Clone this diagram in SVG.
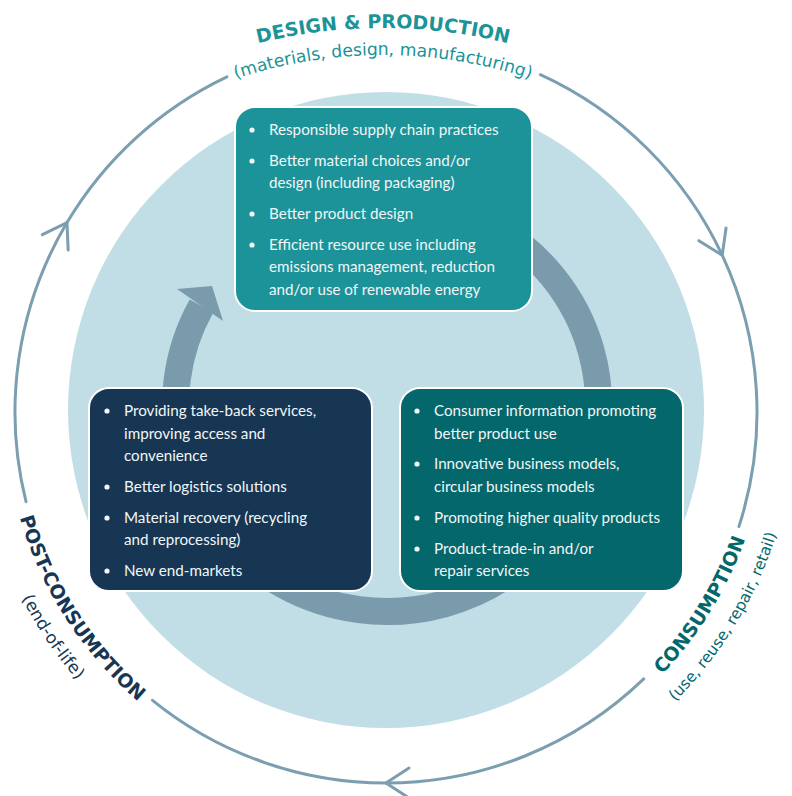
<svg xmlns="http://www.w3.org/2000/svg" width="792" height="796" viewBox="0 0 792 796">
<style>
.bt{font-family:Lato,"Open Sans",sans-serif;font-size:15.2px;fill:#f2f6f7}
.dot{fill:#f2f6f7}
.box{stroke:#ffffff;stroke-width:2}
.ring{fill:none;stroke:#7b9fb0;stroke-width:3;stroke-linecap:round}
.ttl{font-family:"DejaVu Sans",sans-serif;font-weight:bold;font-size:19px}
.sub{font-family:"DejaVu Sans",sans-serif;font-size:16px}
</style>
<defs>
<marker id="chev" markerUnits="userSpaceOnUse" viewBox="-30 -20 40 40" markerWidth="40" markerHeight="40" refX="0" refY="0" orient="auto" overflow="visible">
<path d="M -23,-15 L 0,0 L -23,15" fill="none" stroke="#7b9fb0" stroke-width="3" stroke-linecap="round" stroke-linejoin="round"/>
</marker>
<path id="pTitle" d="M -137,548 A 520 520 0 0 1 903,548"/>
<path id="pSub" d="M -85,523 A 468 468 0 0 1 851,523"/>
<path id="pCons" d="M 442.3,788.8 A 381 381 0 0 0 747.3,291.1"/>
<path id="pConsSub" d="M 448.6,816.2 A 409 409 0 0 0 773.2,280.2"/>
<path id="pPost" d="M 22.1,299 A 381 381 0 0 0 337.9,790"/>
<path id="pPostSub" d="M -7.2,299.3 A 409 409 0 0 0 343.3,818.8"/>
</defs>
<rect width="792" height="796" fill="#ffffff"/>
<circle cx="386" cy="410" r="318" fill="#c1dde6"/>
<g id="connectors">
<path class="ring" d="M 540.4,74.7 A 371 371 0 0 1 722.2,255.2" marker-end="url(#chev)"/>
<path class="ring" d="M 722.2,255.2 A 371 371 0 0 1 738.9,526.6"/>
<path class="ring" d="M 643.7,678.9 A 371 371 0 0 1 386,783" marker-end="url(#chev)"/>
<path class="ring" d="M 386,783 A 371 371 0 0 1 152.5,700.3"/>
<path class="ring" d="M 26,501.7 A 371 371 0 0 1 67,222.6" marker-end="url(#chev)"/>
<path class="ring" d="M 67,222.6 A 371 371 0 0 1 226.9,76.8"/>
<path d="M 492.8,226.2 A 211.5 206.5 0 1 1 201.5,306" fill="none" stroke="#7a9bab" stroke-width="27"/>
<polygon points="177,289 212,286 223,321" fill="#7a9bab"/>
</g>
<g id="label-design">
<text class="ttl" fill="#1b9399"><textPath href="#pTitle" startOffset="50%" text-anchor="middle">DESIGN &amp; PRODUCTION</textPath></text>
<text class="sub" fill="#1b9399" style="font-size:17.2px"><textPath href="#pSub" startOffset="50%" text-anchor="middle">(materials, design, manufacturing)</textPath></text>
</g>
<g id="label-consumption">
<text class="ttl" fill="#03676b"><textPath href="#pCons" startOffset="50%" text-anchor="middle">CONSUMPTION</textPath></text>
<text class="sub" fill="#03676b" style="font-size:15.5px"><textPath href="#pConsSub" startOffset="50%" text-anchor="middle">(use, reuse, repair, retail)</textPath></text>
</g>
<g id="label-post">
<text class="ttl" fill="#163654"><textPath href="#pPost" startOffset="50%" text-anchor="middle">POST-CONSUMPTION</textPath></text>
<text class="sub" fill="#163654" style="font-size:17px"><textPath href="#pPostSub" startOffset="50%" text-anchor="middle">(end-of-life)</textPath></text>
</g>
<g id="node-design">
<rect class="box" x="235" y="107" width="297" height="204" rx="20" fill="#1b9399"/>
<circle class="dot" cx="252" cy="130" r="2.6"/>
<circle class="dot" cx="252" cy="161" r="2.6"/>
<circle class="dot" cx="252" cy="214" r="2.6"/>
<circle class="dot" cx="252" cy="245" r="2.6"/>
<text class="bt" x="269" y="135">Responsible supply chain practices</text>
<text class="bt" x="269" y="166">Better material choices and/or</text>
<text class="bt" x="269" y="188">design (including packaging)</text>
<text class="bt" x="269" y="219">Better product design</text>
<text class="bt" x="269" y="250">Efficient resource use including</text>
<text class="bt" x="269" y="272">emissions management, reduction</text>
<text class="bt" x="269" y="295">and/or use of renewable energy</text>
</g>
<g id="node-post">
<rect class="box" x="89" y="388" width="283" height="203" rx="20" fill="#163654"/>
<circle class="dot" cx="107" cy="411" r="2.6"/>
<circle class="dot" cx="107" cy="487" r="2.6"/>
<circle class="dot" cx="107" cy="518" r="2.6"/>
<circle class="dot" cx="107" cy="571" r="2.6"/>
<text class="bt" x="124" y="416">Providing take-back services,</text>
<text class="bt" x="124" y="439">improving access and</text>
<text class="bt" x="124" y="461">convenience</text>
<text class="bt" x="124" y="492">Better logistics solutions</text>
<text class="bt" x="124" y="523">Material recovery (recycling</text>
<text class="bt" x="124" y="545">and reprocessing)</text>
<text class="bt" x="124" y="576">New end-markets</text>
</g>
<g id="node-consumption">
<rect class="box" x="400" y="388" width="283" height="203" rx="20" fill="#03676b"/>
<circle class="dot" cx="417" cy="411" r="2.6"/>
<circle class="dot" cx="417" cy="464" r="2.6"/>
<circle class="dot" cx="417" cy="518" r="2.6"/>
<circle class="dot" cx="417" cy="549" r="2.6"/>
<text class="bt" x="434" y="416">Consumer information promoting</text>
<text class="bt" x="434" y="439">better product use</text>
<text class="bt" x="434" y="469">Innovative business models,</text>
<text class="bt" x="434" y="492">circular business models</text>
<text class="bt" x="434" y="523">Promoting higher quality products</text>
<text class="bt" x="434" y="554">Product-trade-in and/or</text>
<text class="bt" x="434" y="576">repair services</text>
</g>
</svg>
